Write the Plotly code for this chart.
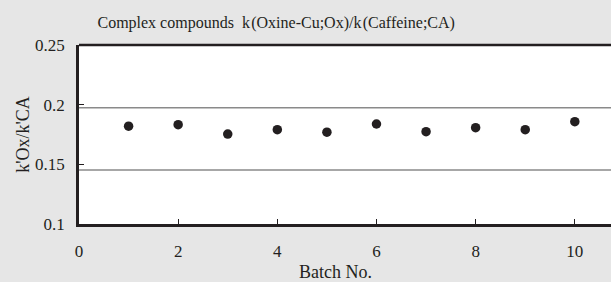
import plotly.graph_objects as go

batch = [1, 2, 3, 4, 5, 6, 7, 8, 9, 10]
ratio = [0.182, 0.1832, 0.1754, 0.179, 0.1769, 0.1838, 0.1774, 0.1807, 0.179, 0.1857]
x_ticks = [0, 2, 4, 6, 8, 10]
y_ticks = [0.1, 0.15, 0.2, 0.25]
y_tick_text = ["0.1", "0.15", "0.2", "0.25"]
grid_levels = [0.1975, 0.1453]

font = "Liberation Serif"

fig = go.Figure()
fig.add_trace(go.Scatter(
    x=batch, y=ratio, mode="markers",
    marker=dict(size=9.5, color="#231f20"),
    showlegend=False, cliponaxis=False,
))

for g in grid_levels:
    fig.add_shape(type="line", xref="paper", yref="y", x0=0, x1=1, y0=g, y1=g,
                  line=dict(color="#8a8a8a", width=1.5), layer="below")
fig.add_shape(type="line", xref="paper", yref="paper", x0=0, x1=1, y0=1, y1=1,
              line=dict(color="#231f20", width=2.5))

fig.add_annotation(text="Batch No.", xref="paper", yref="paper", x=0.483, y=-0.27,
                   xanchor="center", yanchor="middle", showarrow=False,
                   font=dict(family=font, size=18, color="#231f20"))

fig.update_layout(
    width=611, height=282,
    margin=dict(l=79, r=0, t=45, b=58, autoexpand=False),
    paper_bgcolor="#e6e6e6",
    plot_bgcolor="#ffffff",
    font=dict(family=font, size=17, color="#231f20"),
    title=dict(text="Complex compounds  k\u200a(Oxine-Cu;Ox)/k\u200a(Caffeine;CA)",
               x=0.452, xanchor="center", y=0.922, yanchor="middle",
               font=dict(family=font, size=16, color="#231f20")),
    xaxis=dict(range=[0, 10.73], tickvals=x_ticks, ticks="inside", ticklen=5,
               tickcolor="#231f20", showgrid=False, zeroline=False, automargin=False,
               showline=True, linecolor="#231f20", linewidth=2.5,
               ticklabelstandoff=10,
               tickfont=dict(family=font, size=17)),
    yaxis=dict(range=[0.1, 0.25], tickvals=y_ticks, ticktext=y_tick_text,
               ticks="inside", ticklen=5, tickcolor="#231f20", automargin=False,
               showgrid=False, zeroline=False,
               ticklabelstandoff=8,
               tickfont=dict(family=font, size=17),
               showline=True, linecolor="#231f20", linewidth=2.5,
               title=dict(text="k'Ox/k'CA", standoff=1, font=dict(family=font, size=18))),
)

fig.write_html(
    "out.html",
    config={"displayModeBar": False},
    post_script="document.body.style.margin='0';document.body.style.background='#e6e6e6';",
)
